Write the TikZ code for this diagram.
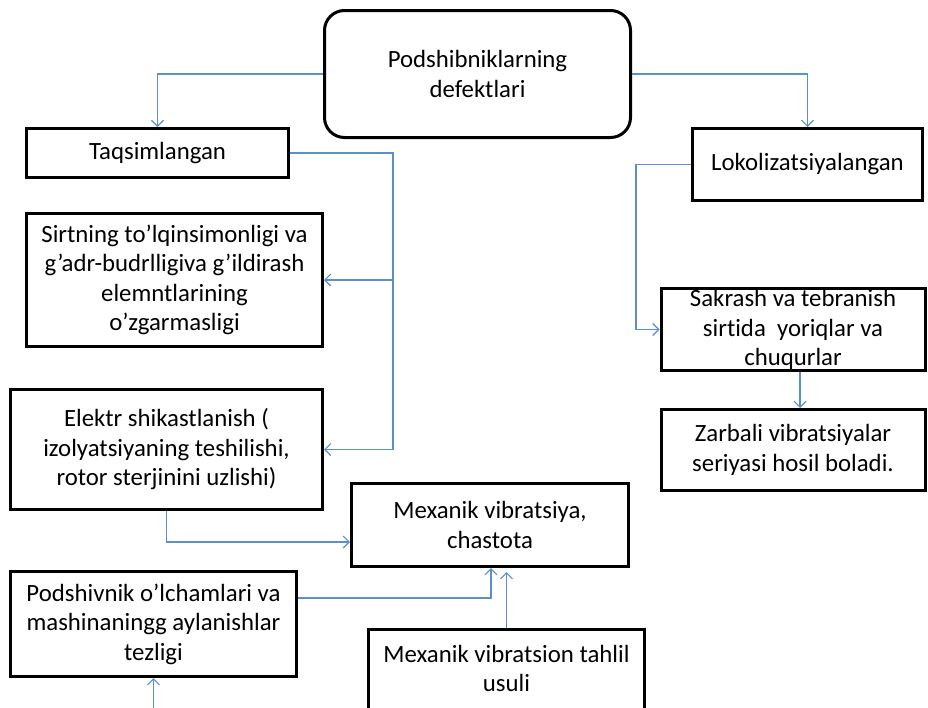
\documentclass[tikz,border=0pt]{standalone}
\usepackage{fontspec}
\setmainfont[Ligatures=NoCommon]{Carlito}
\usepackage{tikz}
\usetikzlibrary{arrows.meta, positioning, calc}
\definecolor{LinkBlue}{RGB}{92,142,204}
\tikzset{
  defbox/.style={draw=black, line width=3pt, align=center, inner sep=0pt,
                 font=\fontsize{24.8}{29.5}\selectfont},
  link/.style={draw=LinkBlue, line width=1.1pt, -{Straight Barb[length=6pt,width=12pt]}},
}

\begin{document}
\begin{tikzpicture}[x=1pt, y=-1pt]
    \useasboundingbox (0,0) rectangle (928,707);

    \node[defbox, rounded corners=20pt, minimum width=306pt, minimum height=127pt]
      (root) at (477.5,74) {Podshibniklarning\\defektlari};
    \node[defbox, minimum width=262pt, minimum height=49pt] (taqs) at (157.5,153) {Taqsimlangan};
    \node[defbox, minimum width=230pt, minimum height=72pt] (lokol) at (807.5,164.5) {Lokolizatsiyalangan};

    \node[defbox, minimum width=296pt, minimum height=133pt] (sirt) at (174.5,280)
      {Sirtning to’lqinsimonligi va\\g’adr-budrlligiva g’ildirash\\elemntlarining\\o’zgarmasligi};
    \node[defbox, minimum width=312pt, minimum height=120pt] (elektr) at (166.5,449.5)
      {Elektr shikastlanish (\\izolyatsiyaning teshilishi,\\rotor sterjinini uzlishi)};
    \node[defbox, minimum width=277pt, minimum height=83pt] (mexvib) at (490,525)
      {Mexanik vibratsiya,\\chastota};
    \node[defbox, minimum width=286pt, minimum height=105pt] (podsh) at (153.5,624)
      {Podshivnik o’lchamlari va\\mashinaningg aylanishlar\\tezligi};
    \node[defbox, anchor=north, minimum width=276pt, minimum height=120pt, inner ysep=16pt,
          text depth=80pt] (tahlil) at (506.5,627.5)
      {Mexanik vibratsion tahlil\\usuli};

    \node[defbox, minimum width=264pt, minimum height=82pt] (sakrash) at (793,329.5)
      {Sakrash va tebranish\\sirtida\ \ yoriqlar va\\chuqurlar};
    \node[defbox, minimum width=264pt, minimum height=81pt] (zarb) at (793,450)
      {Zarbali vibratsiyalar\\seriyasi hosil boladi.};

    \coordinate (trunk) at (393,280);
    \coordinate (below) at (153.5,712);

    \draw[link] (root.west) -| (taqs.north);
    \draw[link] (root.east) -| (lokol.north);
    \draw[link, -] (taqs.east) -| (trunk);
    \draw[link] (trunk) -- (sirt.east);
    \draw[link] (trunk) |- (elektr.east);
    \draw[link] (elektr.south) |- ([yshift=-17pt]mexvib.west);
    \draw[link] ([yshift=26pt]podsh.east) -| ([xshift=1pt]mexvib.south);
    \draw[link] (tahlil.north) -- ([yshift=-4pt]tahlil.north |- mexvib.south);
    \draw[link] (below) -- (podsh.south);
    \draw[link] (lokol.west) -- ++(-55,0) |- (sakrash.west);
    \draw[link] ([xshift=7pt]sakrash.south) -- ([xshift=7pt]zarb.north);
\end{tikzpicture}
\end{document}
